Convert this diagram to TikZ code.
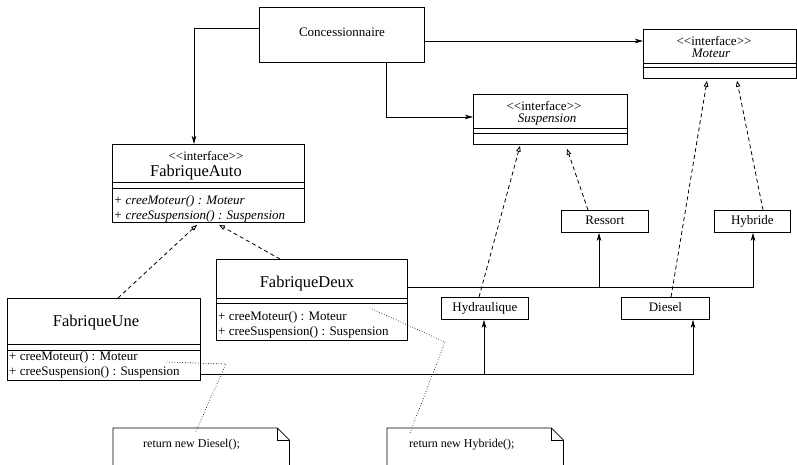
\documentclass[tikz,border=0pt]{standalone}
\usepackage{fontspec}
\setmainfont{Liberation Serif}
\usetikzlibrary{arrows.meta,calc}

% stereotype marker, kept apart so the guillemet ligature is not applied
\newcommand{\stereotype}[1]{<\kern0pt<#1>\kern0pt>}

\begin{document}
\begin{tikzpicture}[x=1pt,y=-1pt,
  boxline/.style={line width=0.8pt, black},
  classbox/.style={draw, boxline, inner sep=0pt, anchor=north west},
  smallbox/.style={draw, boxline, inner sep=0pt, anchor=north west,
    font=\fontsize{13}{15}\selectfont, text height=9pt, text depth=2pt},
  lbl/.style={inner sep=0pt, font=\fontsize{13}{15}\selectfont},
  ilbl/.style={inner sep=0pt, font=\fontsize{13}{15}\selectfont\itshape},
  stlbl/.style={inner sep=0pt, font=\fontsize{13}{15}\selectfont, text depth=0pt},
  cname/.style={inner sep=0pt, font=\fontsize{16.5}{19}\selectfont},
  notetext/.style={inner sep=0pt, font=\fontsize{12}{14}\selectfont},
  assoc/.style={boxline, -{Stealth[length=8pt,width=4.5pt,inset=2pt]}},
  realize/.style={boxline, dash pattern=on 4pt off 3pt,
    -{Triangle[open,length=6pt,width=4.5pt]}},
  noteline/.style={line width=0.9pt, line cap=round, dash pattern=on 0pt off 2.6pt},
]
\useasboundingbox (0,0) rectangle (797,464);

% ---------- class boxes ----------
\node[classbox, minimum width=165pt, minimum height=55pt] (conc) at (259,7) {};
\node[lbl, anchor=base] (concname) at (342,36) {Concessionnaire};

\node[classbox, minimum width=153pt, minimum height=49pt] (moteur) at (643,29) {};
\node[stlbl, anchor=base] (moteurst) at (714,45.5) {\stereotype{interface}};
\node[ilbl, anchor=base] (moteurname) at (711,57) {Moteur};
\draw[boxline] ($(moteur.north west)+(0,34)$) -- ($(moteur.north east)+(0,34)$);
\draw[boxline] ($(moteur.north west)+(0,38)$) -- ($(moteur.north east)+(0,38)$);

\node[classbox, minimum width=154pt, minimum height=50pt] (susp) at (473,94) {};
\node[stlbl, anchor=base] (suspst) at (544,110.5) {\stereotype{interface}};
\node[ilbl, anchor=base] (suspname) at (547,122.5) {Suspension};
\draw[boxline] ($(susp.north west)+(0,34)$) -- ($(susp.north east)+(0,34)$);
\draw[boxline] ($(susp.north west)+(0,39)$) -- ($(susp.north east)+(0,39)$);

\node[classbox, minimum width=192pt, minimum height=78pt] (fa) at (112,144) {};
\node[stlbl, anchor=base] (fast) at (206,160.5) {\stereotype{interface}};
\node[cname, anchor=base] (faname) at (196,176) {FabriqueAuto};
\draw[boxline] ($(fa.north west)+(0,38)$) -- ($(fa.north east)+(0,38)$);
\draw[boxline] ($(fa.north west)+(0,44)$) -- ($(fa.north east)+(0,44)$);
\node[ilbl, anchor=base west] (fam1) at (113.5,204) {+ creeMoteur() : Moteur};
\node[ilbl, anchor=base west] (fam2) at (113.5,219.5) {+ creeSuspension() : Suspension};

\node[classbox, minimum width=193pt, minimum height=82pt] (fu) at (7,298) {};
\node[cname, anchor=base] (funame) at (96,326) {FabriqueUne};
\draw[boxline] ($(fu.north west)+(0,46)$) -- ($(fu.north east)+(0,46)$);
\draw[boxline] ($(fu.north west)+(0,52)$) -- ($(fu.north east)+(0,52)$);
\node[lbl, anchor=base west] (fum1) at (9,360) {+ creeMoteur() : Moteur};
\node[lbl, anchor=base west] (fum2) at (9,375) {+ creeSuspension() : Suspension};

\node[classbox, minimum width=191pt, minimum height=81pt] (fd) at (216,259) {};
\node[cname, anchor=base] (fdname) at (307,287) {FabriqueDeux};
\draw[boxline] ($(fd.north west)+(0,39)$) -- ($(fd.north east)+(0,39)$);
\draw[boxline] ($(fd.north west)+(0,44)$) -- ($(fd.north east)+(0,44)$);
\node[lbl, anchor=base west] (fdm1) at (218,320) {+ creeMoteur() : Moteur};
\node[lbl, anchor=base west] (fdm2) at (218,335) {+ creeSuspension() : Suspension};

% ---------- concrete products ----------
\node[smallbox, minimum width=87pt, minimum height=22pt] (ressort) at (561,210) {Ressort};
\node[smallbox, minimum width=76pt, minimum height=22pt] (hybride) at (714,210) {Hybride};
\node[smallbox, minimum width=87pt, minimum height=22pt] (hydr) at (441,297) {Hydraulique};
\node[smallbox, minimum width=88pt, minimum height=22pt] (diesel) at (621,297) {Diesel};

% ---------- notes ----------
\node[inner sep=0pt, minimum width=176pt, minimum height=50pt, anchor=north west] (note1) at (113,428) {};
\draw[boxline] (note1.south west) -- (note1.north west) -- ($(note1.north east)+(-12,0)$)
  -- ($(note1.north east)+(0,12)$) -- (note1.south east);
\draw[boxline] ($(note1.north east)+(-12,0)$) |- ($(note1.north east)+(0,12)$);
\node[notetext, anchor=base west] (note1text) at (143,447) {return new Diesel();};

\node[inner sep=0pt, minimum width=176pt, minimum height=50pt, anchor=north west] (note2) at (387,428) {};
\draw[boxline] (note2.south west) -- (note2.north west) -- ($(note2.north east)+(-12,0)$)
  -- ($(note2.north east)+(0,12)$) -- (note2.south east);
\draw[boxline] ($(note2.north east)+(-12,0)$) |- ($(note2.north east)+(0,12)$);
\node[notetext, anchor=base west] (note2text) at (409,447) {return new Hybride();};

% ---------- associations from the client ----------
\coordinate (cw) at ($(conc.north west)+(0,21)$);
\draw[assoc] (cw) -| ($(fa.north west)+(82,0)$);
\coordinate (ce) at ($(conc.north east)+(0,34)$);
\draw[assoc] (ce) -- (ce -| moteur.west);
\coordinate (cs) at ($(conc.south west)+(127,0)$);
\draw[assoc] (cs) |- ($(susp.north west)+(0,23)$);

% ---------- realizations ----------
\draw[realize] ($(fu.north west)+(111,0)$) -- ($(fa.south west)+(85,2)$);
\draw[realize] ($(fd.north west)+(64,0)$) -- ($(fa.south west)+(107,2)$);
\draw[realize] ($(hydr.north west)+(38,0)$) -- ($(susp.south west)+(47,1)$);
\draw[realize] ($(ressort.north west)+(27,0)$) -- ($(susp.south west)+(94,4)$);
\draw[realize] ($(diesel.north west)+(50,0)$) -- ($(moteur.south west)+(64,2)$);
\draw[realize] ($(hybride.north west)+(49,0)$) -- ($(moteur.south west)+(94,2)$);

% ---------- factories create products ----------
\coordinate (fdo) at ($(fd.north east)+(0,28)$);
\draw[assoc] (fdo) -| ($(hybride.south west)+(39,0)$);
\coordinate (rb) at ($(ressort.south west)+(38,0)$);
\draw[assoc] (rb |- fdo) -- (rb);

\coordinate (fuo) at ($(fu.north east)+(0,76)$);
\draw[assoc] (fuo) -| ($(diesel.south west)+(72,0)$);
\coordinate (hb) at ($(hydr.south west)+(43,0)$);
\draw[assoc] (hb |- fuo) -- (hb);

% ---------- note anchors ----------
\coordinate (bend1) at (226,364);
\draw[noteline] ($(fu.north west)+(160,64)$) -- (bend1) -- ($(note1.north west)+(82,5)$);
\coordinate (bend2) at (445,342);
\draw[noteline] ($(fd.north west)+(154,49)$) -- (bend2) -- ($(note2.north west)+(23,5)$);
\end{tikzpicture}
\end{document}
